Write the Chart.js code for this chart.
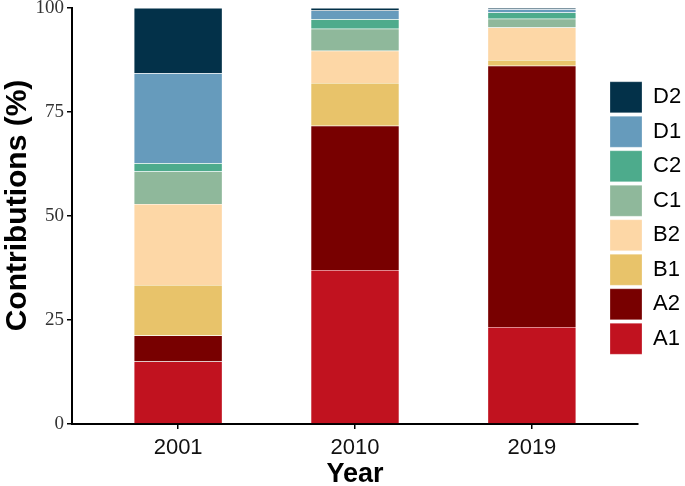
<!DOCTYPE html>
<html><head><meta charset="utf-8">
<script src="https://cdn.jsdelivr.net/npm/chart.js@4/dist/chart.umd.min.js"></script>
<style>html,body{margin:0;padding:0;background:#fff;overflow:hidden}</style>
</head><body>
<canvas id="c" width="685" height="486" style="display:block;width:685px;height:486px"></canvas>
<script>
// Categories and series (percent contributions)
const years = ['2001', '2010', '2019'];
const seriesNames = ['A1', 'A2', 'B1', 'B2', 'C1', 'C2', 'D1', 'D2'];
const A1 = [15.0, 37.0, 23.3];
const A2 = [6.3, 34.7, 62.8];
const B1 = [12.1, 10.3, 1.4];
const B2 = [19.5, 7.7, 7.8];
const C1 = [7.8, 5.3, 2.1];
const C2 = [2.0, 2.3, 1.5];
const D1 = [21.6, 2.1, 0.8];
const D2 = [15.7, 0.6, 0.3];
const yTicks = [0, 25, 50, 75, 100];

const seriesValues = [A1, A2, B1, B2, C1, C2, D1, D2];
const seriesColors = ['#C1121F', '#780000', '#E8C36A', '#FDD7A6', '#8FB89B', '#4DAB8C', '#669BBC', '#033149'];

const datasets = seriesNames.map((name, k) => ({
  label: name,
  data: seriesValues[k].map((v, i) => ({ x: i + 1, y: v })),
  backgroundColor: seriesColors[k],
  borderColor: 'rgba(255,255,255,0.5)',
  borderWidth: 0.5,
  barPercentage: 0.5,
  categoryPercentage: 1.0
}));

const legendPlace = {
  id: 'legendPlace',
  afterLayout(chart) {
    const lg = chart.legend, ca = chart.chartArea;
    if (!lg) return;
    const w = lg.width;
    lg.left = ca.right - 31.5;
    lg.right = lg.left + w;
    lg.top = ca.top + 2;
    lg.bottom = ca.bottom + 2;
    lg.height = ca.bottom - ca.top;
  }
};

new Chart(document.getElementById('c'), {
  type: 'bar',
  data: { datasets },
  plugins: [legendPlace],
  options: {
    responsive: false,
    animation: false,
    devicePixelRatio: 1,
    layout: { padding: { top: 8, right: 47, left: 0, bottom: 0 } },
    plugins: {
      tooltip: { enabled: false },
      legend: {
        position: 'chartArea',
        reverse: true,
        labels: {
          boxWidth: 32,
          boxHeight: 31,
          padding: 3.5,
          color: '#000',
          font: { family: 'Liberation Sans', size: 22 }
        }
      }
    },
    scales: {
      x: {
        type: 'linear',
        stacked: true,
        offset: false,
        min: 0.4,
        max: 3.6,
        afterBuildTicks: s => { s.ticks = years.map((_, i) => ({ value: i + 1 })); },
        afterFit: s => { s.height = 62; s.paddingLeft = 0; s.paddingRight = 0; },
        ticks: {
          callback: v => years[Math.round(v) - 1],
          color: '#111',
          padding: 6,
          font: { family: 'Liberation Sans', size: 22 }
        },
        grid: { offset: false, drawOnChartArea: false, drawTicks: true, tickLength: 5, color: '#000', lineWidth: 1.5 },
        border: { display: true, color: '#000', width: 2 },
        title: {
          display: true, text: 'Year', color: '#000',
          font: { family: 'Liberation Sans', size: 27, weight: 'bold' },
          padding: { top: 0, bottom: -5 }
        }
      },
      y: {
        stacked: true,
        min: 0,
        max: 100,
        afterBuildTicks: s => { s.ticks = yTicks.map(v => ({ value: v })); },
        afterFit: s => { s.width = 72; s.paddingTop = 0; s.paddingBottom = 0; },
        ticks: {
          color: '#333',
          padding: 3,
          font: { family: 'Liberation Serif', size: 19 }
        },
        grid: { drawOnChartArea: false, drawTicks: true, tickLength: 5, color: '#000', lineWidth: 1.5 },
        border: { display: true, color: '#000', width: 2 },
        title: {
          display: true, text: '\u2002\u2009Contributions (%)', color: '#000',
          font: { family: 'Liberation Sans', size: 30, weight: 'bold' },
          padding: 0
        }
      }
    }
  }
});
</script>
</body></html>
